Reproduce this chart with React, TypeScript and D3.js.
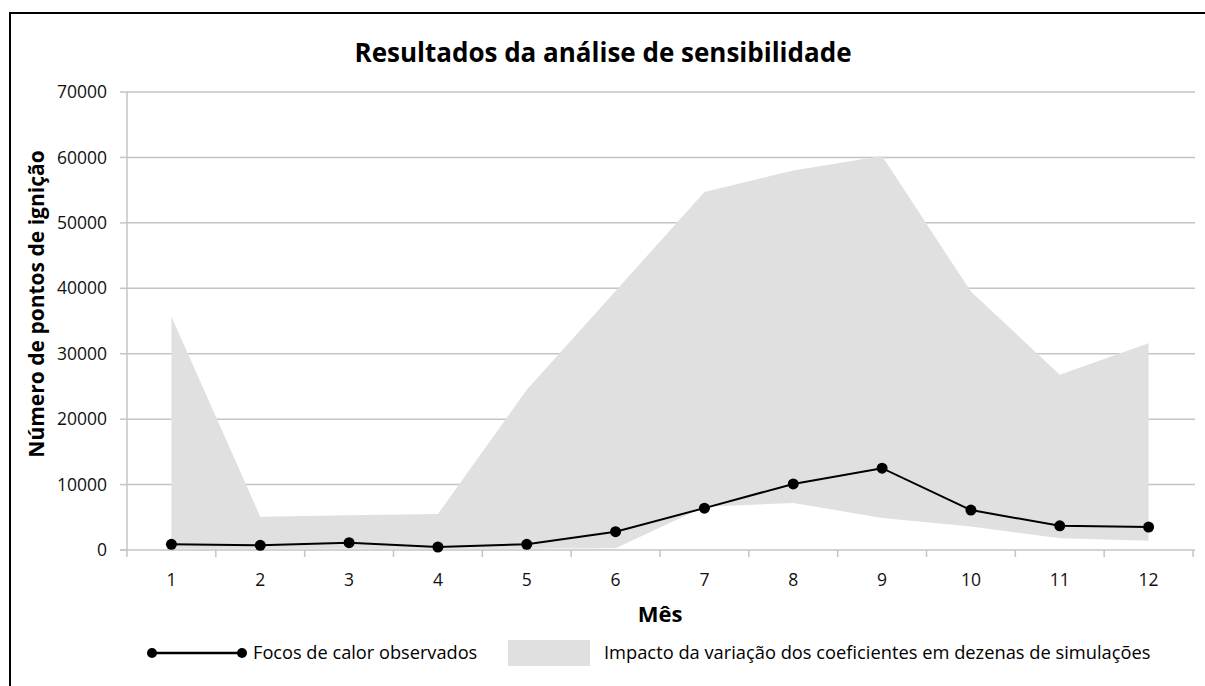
import React from "react";
import * as d3 from "d3";

const months = [1, 2, 3, 4, 5, 6, 7, 8, 9, 10, 11, 12];
const observed = [870, 720, 1120, 460, 870, 2800, 6400, 10100, 12500, 6100, 3700, 3500];
const bandUpper = [35700, 5100, 5300, 5500, 24500, 39600, 54700, 58000, 60200, 39500, 26800, 31600];
const bandLower = [200, 200, 200, 200, 200, 250, 6600, 7200, 4900, 3600, 1800, 1400];
const yTicks = [0, 10000, 20000, 30000, 40000, 50000, 60000, 70000];

const title = "Resultados da análise de sensibilidade";
const yTitle = "Número de pontos de ignição";
const xTitle = "Mês";
const legendLine = "Focos de calor observados";
const legendArea = "Impacto da variação dos coeficientes em dezenas de simulações";

export default function App() {
  const W = 1205, H = 686;
  const left = 127, right = 1193, top = 92, bottom = 550;
  const x = d3.scaleBand<number>().domain(months).range([left, right]).padding(0);
  const cx = (m: number) => (x(m) as number) + x.bandwidth() / 2;
  const y = d3.scaleLinear().domain([0, 70000]).range([bottom, top]);

  const area = d3.area<number>()
    .x((_, i) => cx(months[i]))
    .y0((_, i) => y(bandLower[i]))
    .y1((_, i) => y(bandUpper[i]));
  const line = d3.line<number>()
    .x((_, i) => cx(months[i]))
    .y((d) => y(d));

  const font = "'Open Sans', sans-serif";
  const grid = "#c4c4c4";
  const boundaries = months.map((m) => x(m) as number).concat([right]);

  return (
    <svg width={W} height={H} style={{ position: "absolute", left: 0, top: 0, background: "#fff" }} fontFamily={font}>
      <rect x={0} y={0} width={W} height={H} fill="#fff" />
      <path d={`M10,${H} L10,13 L${W},13`} fill="none" stroke="#000" strokeWidth={2} />
      <text x={603} y={62} textAnchor="middle" fontSize={26} fontWeight="bold" fill="#000">{title}</text>

      {yTicks.map((t) => (
        <g key={t}>
          {t > 0 && <line x1={left} x2={1195} y1={y(t)} y2={y(t)} stroke={grid} strokeWidth={1.5} />}
          <line x1={120} x2={left} y1={y(t)} y2={y(t)} stroke={grid} strokeWidth={1.5} />
          <text x={107} y={y(t)} dy="0.35em" textAnchor="end" fontSize={17.5} fill="#111">{t}</text>
        </g>
      ))}

      <path d={area(bandUpper) || ""} fill="#e0e0e0" />

      <line x1={left} x2={left} y1={top} y2={bottom} stroke={grid} strokeWidth={1.5} />
      <line x1={120} x2={1195} y1={bottom} y2={bottom} stroke={grid} strokeWidth={1.5} />
      {boundaries.map((b, i) => (
        <line key={i} x1={b} x2={b} y1={bottom} y2={bottom + 7} stroke={grid} strokeWidth={1.5} />
      ))}
      {months.map((m) => (
        <text key={m} x={cx(m)} y={586} textAnchor="middle" fontSize={17.5} fill="#111">{m}</text>
      ))}

      <path d={line(observed) || ""} fill="none" stroke="#000" strokeWidth={2} />
      {observed.map((v, i) => (
        <circle key={i} cx={cx(months[i])} cy={y(v)} r={5.5} fill="#000" />
      ))}

      <text x={660} y={622} textAnchor="middle" fontSize={22} fontWeight="bold" fill="#000">{xTitle}</text>
      <text transform={`translate(44,304) rotate(-90)`} textAnchor="middle" fontSize={21} fontWeight="bold" fill="#000">{yTitle}</text>

      <line x1={152} x2={242} y1={653} y2={653} stroke="#000" strokeWidth={2.5} />
      <circle cx={152} cy={653} r={5} fill="#000" />
      <circle cx={242} cy={653} r={5} fill="#000" />
      <text x={253} y={659} fontSize={18.2} fill="#000">{legendLine}</text>
      <rect x={508} y={640} width={82} height={26} fill="#e0e0e0" />
      <text x={604} y={659} fontSize={18.3} fill="#000">{legendArea}</text>
    </svg>
  );
}
